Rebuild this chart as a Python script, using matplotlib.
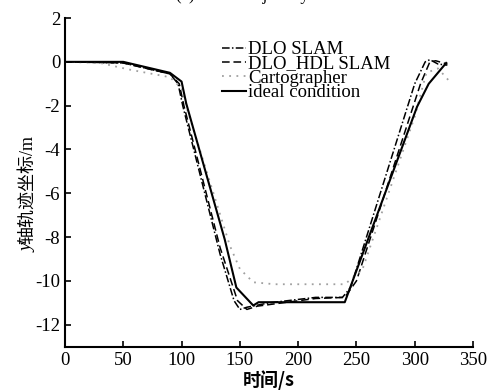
import matplotlib.pyplot as plt
import numpy as np

plt.rcParams["font.family"] = ["Liberation Serif", "Noto Sans CJK SC"]
plt.rcParams["font.size"] = 13.5
plt.rcParams["axes.unicode_minus"] = False
plt.rcParams["xtick.direction"] = "in"
plt.rcParams["ytick.direction"] = "in"

# ideal condition
t_ideal = [0, 50, 90, 100, 104, 137, 147, 161.5, 166, 240, 302, 312, 327]
y_ideal = [0, 0, -0.5, -0.9, -1.9, -8.1, -10.3, -11.12, -10.97, -10.97, -2.05, -1.0, -0.05]

# DLO SLAM
t_dlo = [0, 50, 90, 97, 101, 133, 145, 150, 156, 175, 215, 238, 245, 300, 309, 313, 320, 328]
y_dlo = [0, -0.05, -0.55, -1.0, -2.0, -8.77, -10.9, -11.3, -11.2, -11.0, -10.75, -10.75, -10.3, -1.0, 0.0, 0.1, -0.1, -0.15]

# DLO_HDL SLAM
t_hdl = [0, 50, 90, 98, 102, 133, 148, 156, 165, 215, 240, 250, 305, 313, 318, 328]
y_hdl = [0, -0.05, -0.55, -1.0, -2.0, -8.47, -10.9, -11.3, -11.15, -10.8, -10.75, -10.0, -1.0, 0.0, 0.05, -0.1]

# Cartographer
t_carto = [0, 30, 55, 90, 100, 105, 141.5, 150, 161.5, 180, 240, 255, 300, 310, 320, 330]
y_carto = [0, -0.05, -0.35, -0.7, -1.2, -2.2, -8.4, -9.45, -10.06, -10.15, -10.15, -9.5, -2.5, -0.5, -0.3, -0.9]

fig = plt.figure(figsize=(5, 3.92), dpi=100)
ax = fig.add_axes([0.13, 0.1156, 0.816, 0.8384])

ax.plot(t_dlo, y_dlo, color="black", linestyle=(0, (5, 1.5, 1, 1.5)), linewidth=1.1, label="DLO SLAM")
ax.plot(t_hdl, y_hdl, color="black", linestyle=(0, (5, 2.5)), linewidth=1.1, label="DLO_HDL SLAM")
ax.plot(t_carto, y_carto, color="#a0a0a0", linestyle=(0, (1, 3)), linewidth=1.3, label="Cartographer")
ax.plot(t_ideal, y_ideal, color="black", linestyle="-", linewidth=1.5, label="ideal condition")

ax.set_xlim(0, 350)
ax.set_ylim(-13, 2)
ax.set_xticks(np.arange(0, 351, 50))
ax.set_yticks(np.arange(-12, 3, 2))
ax.spines["top"].set_visible(False)
ax.spines["right"].set_visible(False)
ax.spines["left"].set_linewidth(1.5)
ax.spines["bottom"].set_linewidth(1.5)
ax.tick_params(length=4.5, width=1.2)

ax.set_xlabel("时间/s", family=["Noto Sans CJK SC"], fontweight="bold", fontsize=13, labelpad=1)

# y label: italic y + CJK text
fig.text(0.056, 0.378, "轴轨迹坐标/m", rotation=90, ha="center", va="bottom", fontsize=13)
fig.text(0.056, 0.378, "y", rotation=90, ha="center", va="top", fontsize=13.5, fontstyle="italic")

ax.legend(loc="upper left", bbox_to_anchor=(0.385, 0.93), frameon=False,
          borderpad=0, borderaxespad=0, handlelength=1.25, handletextpad=0.15,
          labelspacing=-0.15)

fig.text(0.525, 1 + 0.5 / 392, "(a) Y-axis trajectory curve", ha="center", va="baseline", fontsize=12)

fig.savefig("out.png", dpi=100)
